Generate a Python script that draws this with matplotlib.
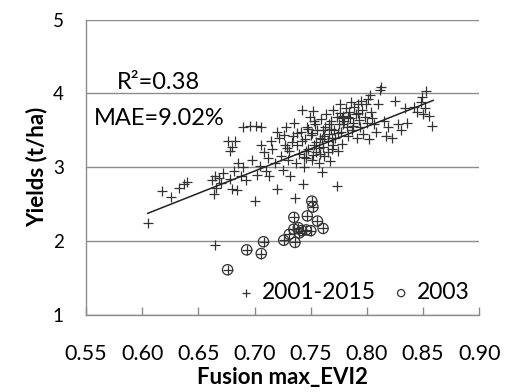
import numpy as np
import matplotlib.pyplot as plt

# 2001-2015 points (Fusion max_EVI2, yield t/ha)
evi_all = [0.605, 0.618, 0.626, 0.633, 0.637, 0.640, 0.662, 0.665, 0.664, 0.666,
           0.668, 0.672, 0.670, 0.665, 0.676, 0.680, 0.678, 0.683, 0.685, 0.682,
           0.678, 0.680, 0.684, 0.688, 0.690, 0.692, 0.690, 0.696, 0.701, 0.706,
           0.698, 0.700, 0.702, 0.705, 0.706, 0.708, 0.710, 0.712, 0.713, 0.715,
           0.716, 0.718, 0.720, 0.720, 0.722, 0.724, 0.725, 0.727, 0.728, 0.730,
           0.731, 0.732, 0.734, 0.735, 0.736, 0.737, 0.738, 0.740, 0.741, 0.742,
           0.743, 0.744, 0.745, 0.746, 0.747, 0.748, 0.749, 0.750, 0.751, 0.752,
           0.753, 0.754, 0.755, 0.756, 0.757, 0.758, 0.759, 0.760, 0.761, 0.762,
           0.763, 0.764, 0.765, 0.766, 0.767, 0.768, 0.769, 0.770, 0.771, 0.772,
           0.773, 0.773, 0.774, 0.775, 0.776, 0.777, 0.778, 0.779, 0.780, 0.781,
           0.782, 0.783, 0.784, 0.785, 0.786, 0.787, 0.788, 0.789, 0.790, 0.791,
           0.792, 0.793, 0.794, 0.795, 0.796, 0.797, 0.798, 0.799, 0.800, 0.801,
           0.802, 0.803, 0.804, 0.806, 0.808, 0.810, 0.812, 0.813, 0.815, 0.817,
           0.819, 0.822, 0.825, 0.828, 0.830, 0.834, 0.836, 0.842, 0.845, 0.848,
           0.849, 0.850, 0.852, 0.853, 0.855, 0.858,
           0.742, 0.746, 0.751, 0.755, 0.758, 0.762, 0.766, 0.770, 0.774, 0.778,
           0.744, 0.748, 0.753, 0.757, 0.761, 0.765, 0.769, 0.776, 0.783, 0.788,
           0.738, 0.733, 0.729, 0.726, 0.752, 0.760, 0.768, 0.779, 0.792, 0.805,
           0.676, 0.693, 0.706, 0.708, 0.726, 0.731, 0.736, 0.735, 0.735, 0.739,
           0.742, 0.746, 0.747, 0.750, 0.751, 0.752, 0.756, 0.761, 0.740]
yield_all = [2.24, 2.68, 2.60, 2.72, 2.77, 2.80, 2.82, 2.88, 2.64, 2.72,
             2.86, 2.92, 2.78, 1.95, 3.35, 3.28, 3.22, 3.36, 3.05, 2.95,
             2.84, 2.70, 2.69, 2.88, 3.00, 2.82, 3.54, 3.56, 3.56, 3.55,
             3.10, 2.54, 2.90, 3.02, 3.30, 3.20, 2.95, 3.12, 2.88, 3.35,
             3.24, 3.05, 2.70, 3.48, 3.40, 3.15, 2.96, 3.30, 3.55, 3.10,
             3.22, 2.88, 3.42, 3.60, 2.58, 3.05, 3.30, 3.18, 3.48, 3.78,
             2.77, 3.00, 3.38, 3.12, 3.55, 3.25, 3.68, 3.44, 3.10, 3.76,
             3.30, 3.58, 3.20, 3.50, 3.05, 3.40, 3.65, 2.94, 3.28, 3.15,
             3.55, 3.72, 3.35, 3.45, 3.08, 3.62, 3.25, 3.78, 3.50, 3.40,
             2.75, 3.68, 3.22, 3.58, 3.85, 3.48, 3.32, 3.70, 3.62, 3.80,
             3.55, 3.42, 3.75, 3.66, 3.88, 3.50, 3.60, 3.82, 3.72, 3.40,
             3.86, 3.64, 3.55, 3.90, 3.78, 3.45, 3.68, 3.85, 3.60, 3.92,
             3.38, 3.98, 3.75, 3.58, 3.48, 3.85, 4.04, 4.08, 3.62, 3.42,
             3.55, 3.40, 3.90, 3.58, 3.50, 3.80, 3.60, 3.82, 3.75, 3.88,
             3.95, 3.72, 3.80, 4.03, 3.70, 3.56,
             3.36, 3.22, 3.46, 3.34, 3.18, 3.42, 3.58, 3.30, 3.46, 3.66,
             3.14, 3.52, 3.62, 3.26, 3.50, 3.20, 3.40, 3.74, 3.68, 3.56,
             3.46, 3.34, 3.26, 3.44, 3.16, 3.38, 3.52, 3.58, 3.74, 3.66,
             1.61, 1.88, 1.83, 1.99, 2.01, 2.09, 1.98, 2.32, 2.16, 2.18,
             2.14, 2.15, 2.34, 2.14, 2.54, 2.46, 2.27, 2.17, 2.11]

# 2003 points
evi_2003 = [0.676, 0.693, 0.706, 0.708, 0.726, 0.731, 0.736, 0.735, 0.735, 0.739,
            0.742, 0.746, 0.747, 0.750, 0.751, 0.752, 0.756, 0.761, 0.740]
yield_2003 = [1.61, 1.88, 1.83, 1.99, 2.01, 2.09, 1.98, 2.32, 2.16, 2.18,
              2.14, 2.15, 2.34, 2.14, 2.54, 2.46, 2.27, 2.17, 2.11]

# fitted line end points
fit_x = [0.605, 0.859]
fit_y = [2.375, 3.905]

plt.rcParams['font.family'] = ['Lato', 'DejaVu Sans']

fig = plt.figure(figsize=(5.06, 3.92), dpi=100)
ax = fig.add_axes([0.170, 0.197, 0.777, 0.753])

ax.scatter(evi_all, yield_all, marker='+', s=55, c='#333333', linewidths=0.9,
           label='2001-2015', zorder=3)
ax.scatter(evi_2003, yield_2003, marker='o', s=55, facecolors='none',
           edgecolors='#333333', linewidths=0.9, label='2003', zorder=4)
ax.plot(fit_x, fit_y, color='#222222', lw=1.1, zorder=5)

ax.set_xlim(0.55, 0.90)
ax.set_ylim(1, 5)
ax.set_xticks(np.arange(0.55, 0.901, 0.05))
ax.set_xticklabels(['%.2f' % v for v in np.arange(0.55, 0.901, 0.05)])
ax.set_yticks([1, 2, 3, 4, 5])
ax.yaxis.grid(True, color='#8c8c8c', lw=1.0)
ax.set_axisbelow(True)

for s in ['top', 'right']:
    ax.spines[s].set_visible(False)
for s in ['left', 'bottom']:
    ax.spines[s].set_color('#8c8c8c')
    ax.spines[s].set_linewidth(1.0)

ax.tick_params(axis='x', direction='in', length=6, width=1.0, color='#8c8c8c',
               pad=21, labelsize=15.5)
ax.tick_params(axis='y', length=0, pad=16, labelsize=13.5)

ax.set_xlabel('Fusion max_EVI2', fontsize=16, fontweight='bold', labelpad=2)
ax.set_ylabel('Yields (t/ha)', fontsize=16, fontweight='bold', labelpad=4)

ax.text(0.5776, 4.06, 'R²=0.38', fontsize=17)
ax.text(0.557, 3.57, 'MAE=9.02%', fontsize=17)

ax.legend(loc='center left', bbox_to_anchor=(0.36, 0.075), ncol=2, frameon=False,
          fontsize=16.5, markerscale=0.7, handlelength=0.8, handletextpad=0.3,
          columnspacing=0.7, borderaxespad=0)

fig.savefig('out.png', dpi=100)
